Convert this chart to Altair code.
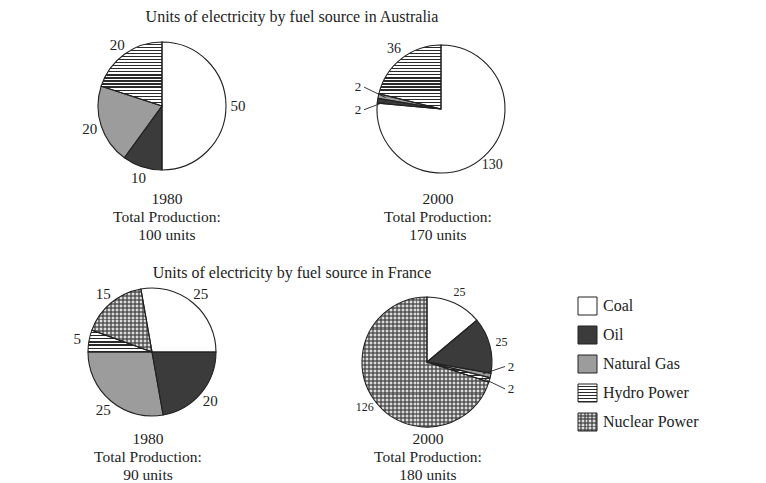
import math
import altair as alt
import pandas as pd

# ---------------- data ----------------
fuels = ["Coal", "Oil", "Natural Gas", "Hydro Power", "Nuclear Power"]
pies = ["Australia 1980", "Australia 2000", "France 1980", "France 2000"]
australia_1980 = [50, 10, 20, 20, 0]
australia_2000 = [130, 2, 2, 36, 0]
france_1980 = [25, 20, 25, 5, 15]
france_2000 = [25, 25, 2, 2, 126]
pie_values = [australia_1980, australia_2000, france_1980, france_2000]
years = ["1980", "2000", "1980", "2000"]
units_text = ["100 units", "170 units", "90 units", "180 units"]
titles = ["Units of electricity by fuel source in Australia",
          "Units of electricity by fuel source in France"]

rows = []
for p, vals in zip(pies, pie_values):
    for i, (f, v) in enumerate(zip(fuels, vals)):
        if v > 0:
            rows.append({"pie": p, "fuel": f, "order": i, "value": v})
df = pd.DataFrame(rows)
legend_df = pd.DataFrame({"fuel": fuels, "idx": list(range(len(fuels)))})

# ---------------- style / layout ----------------
FONT = "Liberation Serif"
INK = "#222222"
fill_colors = ["#ffffff", "#3b3b3b", "#9c9c9c", "#ffffff", "#dcdcdc"]
fill_scale = alt.Scale(domain=fuels, range=fill_colors)
layout = {
    "Australia 1980": dict(cx=154, cy=98, r=64, start=0, fs=15, cap_x=159, cap_y=191),
    "Australia 2000": dict(cx=433, cy=101, r=64, start=0, fs=14, cap_x=430, cap_y=191),
    "France 1980": dict(cx=144, cy=344, r=64, start=-10, fs=15, cap_x=140, cap_y=431),
    "France 2000": dict(cx=419, cy=354, r=65, start=0, fs=12, cap_x=420, cap_y=431),
}
title_pos = [(284, 9), (284, 265)]
CHART_H = 474


def stripe_gradient(n, color, duty, vertical=False):
    clear = "rgba(0,0,0,0)"
    stops = []
    for i in range(max(n, 1)):
        a = i / n
        b = (i + 1 - duty) / n
        c = (i + 1) / n
        stops += [{"offset": round(a, 5), "color": clear},
                  {"offset": round(b, 5), "color": clear},
                  {"offset": round(b, 5), "color": color},
                  {"offset": round(c, 5), "color": color}]
    return {"gradient": "linear", "x1": 0, "y1": 0,
            "x2": 1 if vertical else 0, "y2": 0 if vertical else 1,
            "stops": stops}


def wedge_box(vals, idx, r, start_deg):
    total = sum(vals)
    cum = sum(vals[:idx])
    off = math.radians(start_deg)
    a0 = off + 2 * math.pi * cum / total
    a1 = off + 2 * math.pi * (cum + vals[idx]) / total
    pts = [(0, 0), (r * math.sin(a0), -r * math.cos(a0)), (r * math.sin(a1), -r * math.cos(a1))]
    for k in range(-8, 9):
        t = k * math.pi / 2
        if a0 < t < a1:
            pts.append((r * math.sin(t), -r * math.cos(t)))
    xs = [p[0] for p in pts]
    ys = [p[1] for p in pts]
    return max(xs) - min(xs), max(ys) - min(ys)


HYDRO_PERIOD = 3.0
NUC_PERIOD = 4.0
NUC_INK = "rgba(60,60,60,0.6)"

layers = []
for p, vals in zip(pies, pie_values):
    L = layout[p]
    cx, cy, r = L["cx"], L["cy"], L["r"]
    off = math.radians(L["start"])
    base = (alt.Chart(df)
            .transform_filter(alt.datum.pie == p)
            .transform_window(cum="sum(value)", sort=[alt.SortField("order")], frame=[None, 0])
            .transform_joinaggregate(total="sum(value)")
            .transform_calculate(
                a0=f"{off} + 2*PI*(datum.cum - datum.value)/datum.total",
                a1=f"{off} + 2*PI*datum.cum/datum.total")
            .transform_calculate(mid="(datum.a0 + datum.a1)/2",
                                 share="datum.value/datum.total"))
    pos = dict(x=alt.value(cx), y=alt.value(cy),
               theta=alt.Theta("a0:Q", scale=None), theta2=alt.Theta2("a1:Q"))
    # solid fills
    layers.append(base.mark_arc(radius=r).encode(
        fill=alt.Fill("fuel:N", scale=fill_scale, legend=None), **pos))
    # hydro stripes
    hi = fuels.index("Hydro Power")
    if vals[hi] > 0:
        w, h = wedge_box(vals, hi, r, L["start"])
        g = stripe_gradient(max(2, round(h / HYDRO_PERIOD)), "#2a2a2a", 0.4)
        layers.append(base.transform_filter(alt.datum.fuel == "Hydro Power")
                      .mark_arc(radius=r, fill=g).encode(**pos))
    # nuclear checks
    ni = fuels.index("Nuclear Power")
    if vals[ni] > 0:
        w, h = wedge_box(vals, ni, r, L["start"])
        gh = stripe_gradient(max(2, round(h / NUC_PERIOD)), NUC_INK, 0.5)
        gv = stripe_gradient(max(2, round(w / NUC_PERIOD)), NUC_INK, 0.5, vertical=True)
        nb = base.transform_filter(alt.datum.fuel == "Nuclear Power")
        layers.append(nb.mark_arc(radius=r, fill=gh).encode(**pos))
        layers.append(nb.mark_arc(radius=r, fill=gv).encode(**pos))
    # outlines
    layers.append(base.mark_arc(radius=r, fillOpacity=0, stroke=INK, strokeWidth=1.1)
                  .encode(**pos))
    # labels for regular slices
    R = r + 12
    layers.append(base.transform_filter("datum.share >= 0.03")
                  .transform_calculate(lx=f"{cx} + {R}*sin(datum.mid)",
                                       ly=f"{cy} - {R}*cos(datum.mid)")
                  .mark_text(font=FONT, fontSize=L["fs"], color=INK, baseline="middle")
                  .encode(x=alt.X("lx:Q", scale=None, axis=None),
                          y=alt.Y("ly:Q", scale=None, axis=None),
                          text=alt.Text("value:Q")))
    # labels for thin slices with leader lines
    small = (base.transform_filter("datum.share < 0.03")
             .transform_window(k="row_number()", sort=[alt.SortField("order")])
             .transform_calculate(side="sin(datum.mid) >= 0 ? 1 : -1")
             .transform_calculate(
                 lx=f"{cx} + datum.side*{r + 19}",
                 ly=f"{cy} - {r}*cos(datum.mid) + datum.side*(datum.k - 1.5)*18",
                 px=f"{cx} + {0.88 * r}*sin(datum.mid)",
                 py=f"{cy} - {0.88 * r}*cos(datum.mid)")
             .transform_calculate(qx="datum.lx - datum.side*6", qy="datum.ly"))
    layers.append(small.mark_rule(color=INK, strokeWidth=0.9).encode(
        x=alt.X("px:Q", scale=None, axis=None), y=alt.Y("py:Q", scale=None, axis=None),
        x2="qx:Q", y2="qy:Q"))
    layers.append(small.mark_text(font=FONT, fontSize=13, color=INK, baseline="middle").encode(
        x=alt.X("lx:Q", scale=None, axis=None), y=alt.Y("ly:Q", scale=None, axis=None),
        text=alt.Text("value:Q")))

# captions under each pie
for p, yr, ut in zip(pies, years, units_text):
    L = layout[p]
    cap_df = pd.DataFrame({"line": [yr, "Total Production:", ut], "i": [0, 1, 2]})
    layers.append(alt.Chart(cap_df)
                  .transform_calculate(yy=f"{L['cap_y']} + 18*datum.i")
                  .mark_text(font=FONT, fontSize=15.5, color=INK, baseline="middle")
                  .encode(x=alt.value(L["cap_x"]), y=alt.Y("yy:Q", scale=None, axis=None),
                          text="line:N"))

# titles
for t, (tx, ty) in zip(titles, title_pos):
    layers.append(alt.Chart(pd.DataFrame({"t": [t]}))
                  .mark_text(font=FONT, fontSize=16, color=INK, baseline="middle")
                  .encode(x=alt.value(tx), y=alt.value(ty), text="t:N"))

# legend
lg = (alt.Chart(legend_df)
      .transform_calculate(y0="289 + 29*datum.idx", y1="289 + 29*datum.idx + 18",
                           ym="289 + 29*datum.idx + 9"))
lpos = dict(x=alt.value(570), x2=alt.value(589),
            y=alt.Y("y0:Q", scale=None, axis=None), y2="y1:Q")
layers.append(lg.mark_rect().encode(fill=alt.Fill("fuel:N", scale=fill_scale, legend=None), **lpos))
layers.append(lg.transform_filter(alt.datum.fuel == "Hydro Power")
              .mark_rect(fill=stripe_gradient(6, "#2a2a2a", 0.4)).encode(**lpos))
layers.append(lg.transform_filter(alt.datum.fuel == "Nuclear Power")
              .mark_rect(fill=stripe_gradient(5, NUC_INK, 0.5)).encode(**lpos))
layers.append(lg.transform_filter(alt.datum.fuel == "Nuclear Power")
              .mark_rect(fill=stripe_gradient(5, NUC_INK, 0.5, vertical=True)).encode(**lpos))
layers.append(lg.mark_rect(fillOpacity=0, stroke=INK, strokeWidth=1).encode(**lpos))
layers.append(lg.mark_text(font=FONT, fontSize=16, color=INK, align="left", baseline="middle")
              .encode(x=alt.value(595), y=alt.Y("ym:Q", scale=None, axis=None), text="fuel:N"))

chart = (alt.layer(*layers)
         .properties(width=750, height=CHART_H, padding=0, autosize="none", background="white")
         .configure_view(stroke=None))

chart.save("out.html", embed_options={"renderer": "svg", "actions": False})
